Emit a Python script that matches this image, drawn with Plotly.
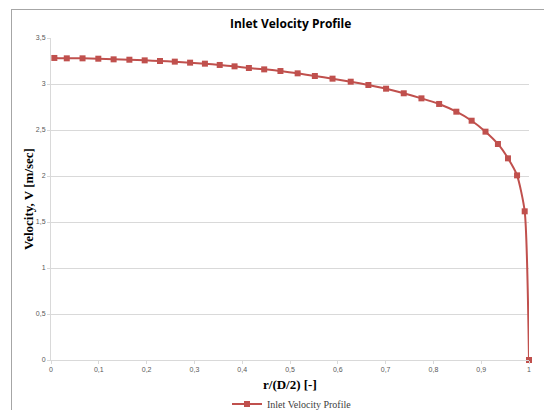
import plotly.graph_objects as go

# Data
r_ratio = [0.007, 0.033, 0.066, 0.099, 0.131, 0.164, 0.196, 0.228, 0.259, 0.291,
           0.322, 0.353, 0.384, 0.414, 0.446, 0.480, 0.516, 0.552, 0.589, 0.627,
           0.664, 0.701, 0.738, 0.775, 0.812, 0.848, 0.880, 0.909, 0.935, 0.956,
           0.975, 0.991, 1.000]
velocity = [3.283, 3.279, 3.279, 3.275, 3.268, 3.264, 3.257, 3.250, 3.243, 3.232,
            3.221, 3.207, 3.192, 3.174, 3.159, 3.141, 3.116, 3.087, 3.058, 3.025,
            2.989, 2.949, 2.899, 2.844, 2.783, 2.699, 2.601, 2.482, 2.348, 2.192,
            2.007, 1.616, 0.000]

x_tick_vals = [0, 0.1, 0.2, 0.3, 0.4, 0.5, 0.6, 0.7, 0.8, 0.9, 1]
x_tick_text = ["0", "0,1", "0,2", "0,3", "0,4", "0,5", "0,6", "0,7", "0,8", "0,9", "1"]
y_tick_vals = [0, 0.5, 1, 1.5, 2, 2.5, 3, 3.5]
y_tick_text = ["0", "0,5", "1", "1,5", "2", "2,5", "3", "3,5"]

series_name = "Inlet Velocity Profile"
title_text = "Inlet Velocity Profile"
x_title = "r/(D/2) [-]"
y_title = "Velocity, V [m/sec]"

RED = "#C0504D"

fig = go.Figure()
fig.add_trace(go.Scatter(
    x=r_ratio, y=velocity, name=series_name,
    mode="lines+markers", cliponaxis=False,
    line=dict(color=RED, width=2, shape="spline", smoothing=0.6),
    marker=dict(symbol="square", size=6, color=RED),
))

W, H = 544, 410
L, R, T, B = 51, 15, 38, 50
pw, ph = W - L - R, H - T - B

def px_x(px):
    return (px - L) / pw

def px_y(py):
    return (H - B - py) / ph

fig.update_layout(
    width=W, height=H,
    margin=dict(l=L, r=R, t=T, b=B, autoexpand=False),
    paper_bgcolor="white", plot_bgcolor="white",
    showlegend=True,
    legend=dict(
        orientation="h", x=px_x(292), y=px_y(404), xanchor="center", yanchor="middle",
        font=dict(family="Liberation Serif", size=10, color="#404040"),
        bgcolor="rgba(0,0,0,0)", itemwidth=30,
    ),
    xaxis=dict(
        range=[0, 1], tickmode="array", tickvals=x_tick_vals, ticktext=x_tick_text,
        showgrid=False, zeroline=False, showline=True, linecolor="#D9D9D9", linewidth=1,
        ticks="outside", ticklen=3, tickcolor="#D9D9D9", automargin=False,
        tickfont=dict(family="Liberation Sans", size=7, color="#595959"),
    ),
    yaxis=dict(
        range=[0, 3.5], tickmode="array", tickvals=y_tick_vals, ticktext=y_tick_text,
        showgrid=True, gridcolor="#D9D9D9", gridwidth=1, zeroline=False,
        showline=True, linecolor="#D9D9D9", linewidth=1, automargin=False,
        ticks="outside", ticklen=3, tickcolor="#D9D9D9",
        tickfont=dict(family="Liberation Sans", size=7, color="#595959"),
    ),
    annotations=[
        dict(text="<b>" + title_text + "</b>", xref="paper", yref="paper",
             x=px_x(290), y=px_y(23), xanchor="center", yanchor="middle", showarrow=False,
             font=dict(family="Open Sans", size=12, color="#000000")),
        dict(text="<b>" + x_title + "</b>", xref="paper", yref="paper",
             x=px_x(290), y=px_y(384), xanchor="center", yanchor="middle", showarrow=False,
             font=dict(family="Liberation Serif", size=13, color="#000000")),
        dict(text="<b>" + y_title + "</b>", xref="paper", yref="paper",
             x=px_x(28), y=px_y(199), xanchor="center", yanchor="middle", showarrow=False,
             textangle=-90,
             font=dict(family="Liberation Serif", size=13, color="#000000")),
    ],
    shapes=[
        dict(type="line", xref="paper", yref="paper",
             x0=px_x(11), x1=px_x(560), y0=px_y(9.5), y1=px_y(9.5),
             line=dict(color="#A6A6A6", width=1)),
        dict(type="line", xref="paper", yref="paper",
             x0=px_x(11.5), x1=px_x(11.5), y0=px_y(9.5), y1=px_y(420),
             line=dict(color="#A6A6A6", width=1)),
    ],
)

fig.write_html(
    "out.html",
    config={"displayModeBar": False},
    post_script="document.body.style.margin='0';document.body.style.overflow='hidden';",
)
